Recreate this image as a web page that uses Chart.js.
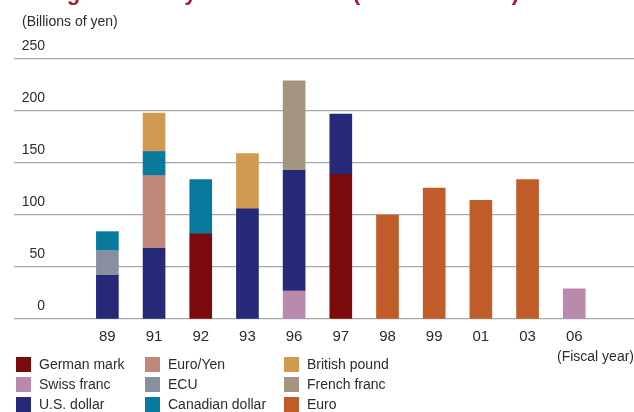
<!DOCTYPE html>
<html>
<head>
<meta charset="utf-8">
<script src="https://cdn.jsdelivr.net/npm/chart.js@4"></script>
<style>
  html, body { margin: 0; padding: 0; background: #fff; }
  #wrap { width: 634px; height: 412px; }
</style>
</head>
<body>
<div id="wrap"><canvas id="c" width="634" height="412"></canvas></div>
<script>
const years = ['89', '91', '92', '93', '96', '97', '98', '99', '01', '03', '06'];

const germanMark     = [null, null, 82, null, null, 139, null, null, null, null, null];
const swissFranc     = [null, null, null, null, 27, null, null, null, null, null, 29];
const usDollar       = [42, 68, null, 106, 116, 58, null, null, null, null, null];
const euroYen        = [null, 70, null, null, null, null, null, null, null, null, null];
const ecu            = [24, null, null, null, null, null, null, null, null, null, null];
const canadianDollar = [18, 23, 52, null, null, null, null, null, null, null, null];
const britishPound   = [null, 37, null, 53, null, null, null, null, null, null, null];
const frenchFranc    = [null, null, null, null, 86, null, null, null, null, null, null];
const euro           = [null, null, null, null, null, null, 100, 126, 114, 134, null];

const yTicks = [0, 50, 100, 150, 200, 250];

const FONT = "'Liberation Sans', Arial, sans-serif";
const TEXT = '#2b2b2b';

const series = [
  { label: 'German mark', data: germanMark, color: '#7a0a0d' },
  { label: 'Swiss franc', data: swissFranc, color: '#b98aab' },
  { label: 'U.S. dollar', data: usDollar, color: '#262878' },
  { label: 'Euro/Yen', data: euroYen, color: '#c08878' },
  { label: 'ECU', data: ecu, color: '#8690a0' },
  { label: 'Canadian dollar', data: canadianDollar, color: '#077a9e' },
  { label: 'British pound', data: britishPound, color: '#d09a50' },
  { label: 'French franc', data: frenchFranc, color: '#a49480' },
  { label: 'Euro', data: euro, color: '#c05c2a' }
];

// legend is laid out row by row in the picture
const legendOrder = [
  'German mark', 'Euro/Yen', 'British pound',
  'Swiss franc', 'ECU', 'French franc',
  'U.S. dollar', 'Canadian dollar', 'Euro'
];

const extras = {
  id: 'extras',
  // y labels sit over the gridlines, right-aligned at x=45: widen the label strip after layout
  afterLayout(chart) {
    const y = chart.scales.y;
    y.left = 0;
    y.right = 45;
  },
  afterDraw(chart) {
    const ctx = chart.ctx;
    ctx.save();
    // title, mostly cut off at the top edge
    ctx.fillStyle = '#a6192e';
    ctx.font = "bold 22px 'Liberation Sans', Arial, sans-serif";
    ctx.textAlign = 'left';
    ctx.textBaseline = 'alphabetic';
    ctx.fillText('Foreign Currency Bonds Issued (Face Amounts)', 13, 0);

    // unit label
    ctx.fillStyle = TEXT;
    ctx.font = '14px ' + FONT;
    ctx.textBaseline = 'middle';
    ctx.fillText('(Billions of yen)', 22, 22);

    // legend grid
    const colX = [16, 145, 284];
    const rowY = [364.5, 384.5, 404.5];
    legendOrder.forEach((name, i) => {
      const ds = chart.data.datasets.find(d => d.label === name);
      const x = colX[i % 3];
      const y = rowY[Math.floor(i / 3)];
      ctx.fillStyle = ds.backgroundColor;
      ctx.fillRect(x, y - 7.5, 15, 15);
      ctx.fillStyle = TEXT;
      ctx.fillText(name, x + 23, y + 1);
    });
    ctx.restore();
  }
};

new Chart(document.getElementById('c'), {
  type: 'bar',
  data: {
    datasets: series.map(s => ({
      label: s.label,
      data: s.data.map((v, i) => (v == null ? null : { x: i, y: v })).filter(p => p),
      backgroundColor: s.color,
      borderWidth: 0,
      barThickness: 22
    }))
  },
  options: {
    responsive: false,
    animation: false,
    layout: { padding: { top: 59, bottom: 46, left: 0, right: 0 } },
    plugins: {
      legend: { display: false },
      tooltip: { enabled: false }
    },
    scales: {
      x: {
        type: 'linear',
        stacked: true,
        offset: false,
        min: -2,
        max: 11.28,
        grid: { display: false, offset: false },
        border: { display: false },
        afterBuildTicks: s => { s.ticks = years.map((_, i) => ({ value: i })); },
        afterFit: s => { s.height = 47; },
        ticks: {
          autoSkip: false,
          maxRotation: 0,
          padding: 1,
          color: TEXT,
          font: { family: FONT, size: 15 },
          callback: v => years[v] ?? ''
        },
        title: {
          display: true,
          text: '(Fiscal year)',
          align: 'end',
          color: TEXT,
          padding: 0,
          font: { family: FONT, size: 14 }
        }
      },
      y: {
        stacked: true,
        min: 0,
        max: 250,
        afterBuildTicks: s => { s.ticks = yTicks.map(v => ({ value: v })); },
        afterFit: s => { s.width = 14; },
        grid: { color: '#a9a9a9', lineWidth: 1.3, drawTicks: false },
        border: { display: false },
        ticks: {
          padding: 0,
          crossAlign: 'near',
          labelOffset: -12.5,
          color: TEXT,
          font: { family: FONT, size: 14 }
        }
      }
    }
  },
  plugins: [extras]
});
</script>
</body>
</html>
